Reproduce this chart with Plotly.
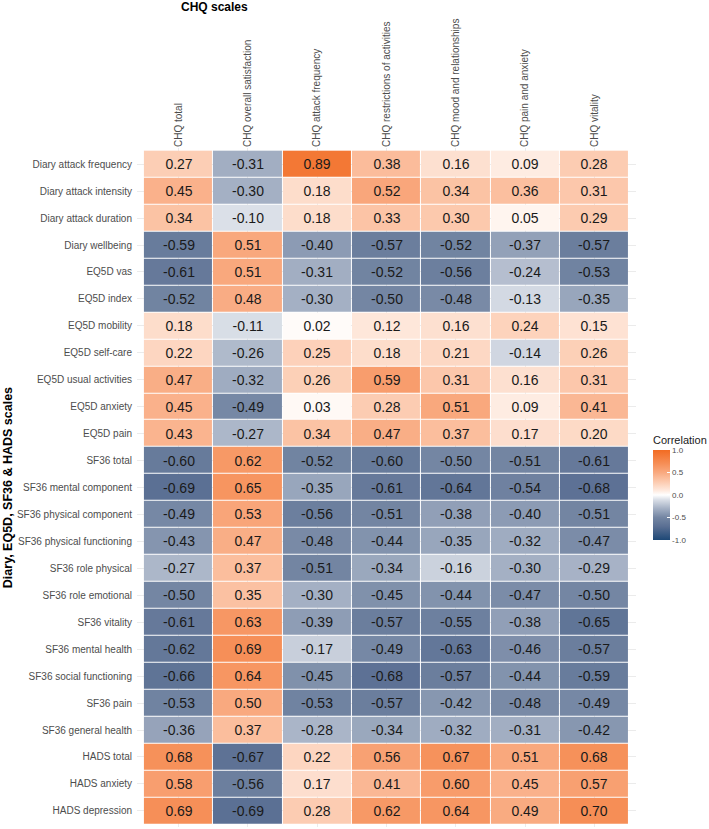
import plotly.graph_objects as go

columns = ["CHQ total", "CHQ overall satisfaction", "CHQ attack frequency",
           "CHQ restrictions of activities", "CHQ mood and relationships",
           "CHQ pain and anxiety", "CHQ vitality"]

rows = ["Diary attack frequency", "Diary attack intensity", "Diary attack duration",
        "Diary wellbeing", "EQ5D vas", "EQ5D index", "EQ5D mobility", "EQ5D self-care",
        "EQ5D usual activities", "EQ5D anxiety", "EQ5D pain", "SF36 total",
        "SF36 mental component", "SF36 physical component", "SF36 physical functioning",
        "SF36 role physical", "SF36 role emotional", "SF36 vitality", "SF36 mental health",
        "SF36 social functioning", "SF36 pain", "SF36 general health", "HADS total",
        "HADS anxiety", "HADS depression"]

chq_total = [0.27, 0.45, 0.34, -0.59, -0.61, -0.52, 0.18, 0.22, 0.47, 0.45, 0.43, -0.60,
             -0.69, -0.49, -0.43, -0.27, -0.50, -0.61, -0.62, -0.66, -0.53, -0.36, 0.68, 0.58, 0.69]
chq_overall_satisfaction = [-0.31, -0.30, -0.10, 0.51, 0.51, 0.48, -0.11, -0.26, -0.32, -0.49, -0.27, 0.62,
                            0.65, 0.53, 0.47, 0.37, 0.35, 0.63, 0.69, 0.64, 0.50, 0.37, -0.67, -0.56, -0.69]
chq_attack_frequency = [0.89, 0.18, 0.18, -0.40, -0.31, -0.30, 0.02, 0.25, 0.26, 0.03, 0.34, -0.52,
                        -0.35, -0.56, -0.48, -0.51, -0.30, -0.39, -0.17, -0.45, -0.53, -0.28, 0.22, 0.17, 0.28]
chq_restrictions = [0.38, 0.52, 0.33, -0.57, -0.52, -0.50, 0.12, 0.18, 0.59, 0.28, 0.47, -0.60,
                    -0.61, -0.51, -0.44, -0.34, -0.45, -0.57, -0.49, -0.68, -0.57, -0.34, 0.56, 0.41, 0.62]
chq_mood = [0.16, 0.34, 0.30, -0.52, -0.56, -0.48, 0.16, 0.21, 0.31, 0.51, 0.37, -0.50,
            -0.64, -0.38, -0.35, -0.16, -0.44, -0.55, -0.63, -0.57, -0.42, -0.32, 0.67, 0.60, 0.64]
chq_pain_anxiety = [0.09, 0.36, 0.05, -0.37, -0.24, -0.13, 0.24, -0.14, 0.16, 0.09, 0.17, -0.51,
                    -0.54, -0.40, -0.32, -0.30, -0.47, -0.38, -0.46, -0.44, -0.48, -0.31, 0.51, 0.45, 0.49]
chq_vitality = [0.28, 0.31, 0.29, -0.57, -0.53, -0.35, 0.15, 0.26, 0.31, 0.41, 0.20, -0.61,
                -0.68, -0.51, -0.47, -0.29, -0.50, -0.65, -0.57, -0.59, -0.49, -0.42, 0.68, 0.57, 0.70]

colorbar_ticks = [-1.0, -0.5, 0.0, 0.5, 1.0]
colorbar_ticktext = ["-1.0", "-0.5", "0.0", "0.5", "1.0"]

series = [chq_total, chq_overall_satisfaction, chq_attack_frequency, chq_restrictions,
          chq_mood, chq_pain_anxiety, chq_vitality]
z = [[series[j][i] for j in range(len(columns))] for i in range(len(rows))]
text = [[f"{v:.2f}" for v in r] for r in z]

colorscale = [
    [0.00, "#1e4876"],
    [0.15, "#5a6f93"],
    [0.25, "#7486a3"],
    [0.35, "#a4b0c4"],
    [0.45, "#dbe0e8"],
    [0.50, "#ffffff"],
    [0.55, "#feeadf"],
    [0.65, "#fcc9ad"],
    [0.75, "#f9a97f"],
    [0.85, "#f68e56"],
    [1.00, "#f26b22"],
]

FONT = "Liberation Sans, Arial, sans-serif"

fig = go.Figure(go.Heatmap(
    x=columns, y=rows, z=z, text=text, texttemplate="%{text}",
    textfont=dict(size=14, color="#1a1a1a", family=FONT),
    zmin=-1, zmax=1, colorscale=colorscale, xgap=1, ygap=1,
    colorbar=dict(
        title=dict(text="Correlation", side="top", font=dict(size=11, color="#1a1a1a", family=FONT)),
        x=1.034, xanchor="left", xpad=0, y=0.4227, yanchor="bottom",
        thickness=17, thicknessmode="pixels", len=107, lenmode="pixels",
        outlinewidth=0, tickvals=colorbar_ticks, ticktext=colorbar_ticktext,
        ticks="inside", tickcolor="white", ticklen=3,
        tickfont=dict(size=8, color="#4d4d4d", family=FONT), ypad=0,
    ),
    hoverinfo="skip",
))

fig.update_layout(
    width=709, height=829,
    margin=dict(l=137, r=73, t=148, b=2),
    paper_bgcolor="white", plot_bgcolor="white",
    font=dict(family=FONT),
    xaxis=dict(type="category", categoryarray=columns, range=[-0.6, 6.6], side="top",
               tickangle=-90, showgrid=True, gridcolor="#ebebeb", gridwidth=1,
               zeroline=False, showline=False, ticks="",
               tickfont=dict(size=10, color="#4d4d4d", family=FONT)),
    yaxis=dict(type="category", categoryarray=rows, range=[24.6, -0.6],
               showgrid=True, gridcolor="#ebebeb", gridwidth=1,
               zeroline=False, showline=False, ticks="", ticklabelstandoff=4,
               tickfont=dict(size=10, color="#4d4d4d", family=FONT)),
    annotations=[
        dict(text="<b>CHQ scales</b>", xref="paper", yref="paper", x=0.1553, y=1.2077,
             xanchor="center", yanchor="middle", showarrow=False,
             font=dict(size=12, color="#000000", family=FONT)),
        dict(text="<b>Diary, EQ5D, SF36 & HADS scales</b>", xref="paper", yref="paper",
             x=-0.2585, y=0.499, xanchor="center", yanchor="middle", textangle=-90,
             showarrow=False, font=dict(size=12.5, color="#000000", family=FONT)),
    ],
)

fig.write_html("out.html")
